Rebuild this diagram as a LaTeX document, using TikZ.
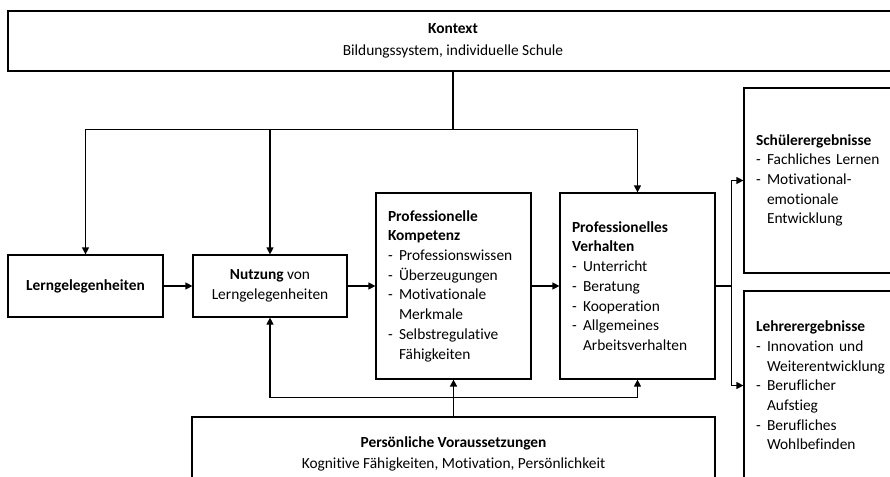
\documentclass[tikz,border=0pt]{standalone}
\usepackage{fontspec}
\setmainfont{Carlito}[Ligatures=NoCommon]
\usetikzlibrary{arrows.meta,calc}
\newcommand{\dashitem}{\makebox[11pt][l]{-}}
\newcommand{\contline}{\hspace*{11pt}}
\begin{document}
\begin{tikzpicture}[x=1pt,y=-1pt,
  every node/.style={font=\fontsize{15.4}{19.7}\selectfont},
  box/.style={draw, line width=1.2pt, rectangle, inner sep=0pt},
  centerbox/.style={box, align=center, minimum width=#1},
  listbox/.style={box, align=left, inner xsep=12pt, text width=#1},
  arr/.style={line width=1.2pt, -{Triangle[length=7pt,width=7pt]}},
  link/.style={line width=1.2pt}]
\useasboundingbox (0,0) rectangle (890,476);
\clip (0,0) rectangle (890,476);

% context on top
\node[centerbox=890, minimum height=60] (kontext) at (453,41)
  {\textbf{Kontext}\\[2pt]Bildungssystem, individuelle Schule};

% learning opportunities and their use
\node[centerbox=155, minimum height=62] (lern) at (85.5,286)
  {\textbf{Lerngelegenheiten}};
\node[centerbox=154, minimum height=62] (nutz) at (270,286)
  {\textbf{Nutzung} von\\Lerngelegenheiten};

% competence and behaviour
\node[listbox=131, minimum height=186] (komp) at (453.5,286)
  {\textbf{Professionelle}\\\textbf{Kompetenz}\\
   \dashitem Professionswissen\\
   \dashitem Überzeugungen\\
   \dashitem Motivationale\\\contline Merkmale\\
   \dashitem Selbstregulative\\\contline Fähigkeiten};
\node[listbox=131, minimum height=186] (verh) at (637.5,286)
  {\textbf{Professionelles}\\\textbf{Verhalten}\\
   \dashitem Unterricht\\
   \dashitem Beratung\\
   \dashitem Kooperation\\
   \dashitem Allgemeines\\\contline Arbeitsverhalten};

% outcomes
\node[listbox=132, minimum height=185] (schuel) at (822,180.5)
  {\textbf{Schülerergebnisse}\\
   \dashitem Fachliches Lernen\\
   \dashitem Motivational-\\\contline emotionale\\\contline Entwicklung};
\node[listbox=132, minimum height=189] (lehrer) at (822,385.5)
  {\textbf{Lehrerergebnisse}\\
   \dashitem Innovation und\\\contline Weiterentwicklung\\
   \dashitem Beruflicher\\\contline Aufstieg\\
   \dashitem Berufliches\\\contline Wohlbefinden};

% personal prerequisites
\node[centerbox=523, minimum height=74] (pers) at (453.5,454)
  {\textbf{Persönliche Voraussetzungen}\\[2pt]Kognitive Fähigkeiten, Motivation, Persönlichkeit};

% context influences
\coordinate (kb) at ($(kontext.south)+(0,58)$);
\draw[link] (kontext.south) -- (kb);
\draw[arr] (kb) -| (lern.north);
\draw[arr] (kb) -| (nutz.north);
\draw[arr] (kb) -| (verh.north);

% main chain
\draw[arr] (lern.east) -- (nutz.west);
\draw[arr] (nutz.east) -- (komp.west);
\draw[arr] (komp.east) -- (verh.west);

% behaviour to outcomes
\coordinate (vj) at ($(verh.east)+(16,0)$);
\draw[link] (verh.east) -- (vj);
\draw[arr] (vj) |- (schuel.west);
\draw[arr] (vj) |- (lehrer.west);

% personal prerequisites influences
\coordinate (pb) at ($(pers.north)+(0,-19)$);
\draw[arr, line width=1.6pt] (pers.north) -- (komp.south);
\draw[arr] (pb) -| (nutz.south);
\draw[arr] (pb) -| (verh.south);
\end{tikzpicture}
\end{document}
